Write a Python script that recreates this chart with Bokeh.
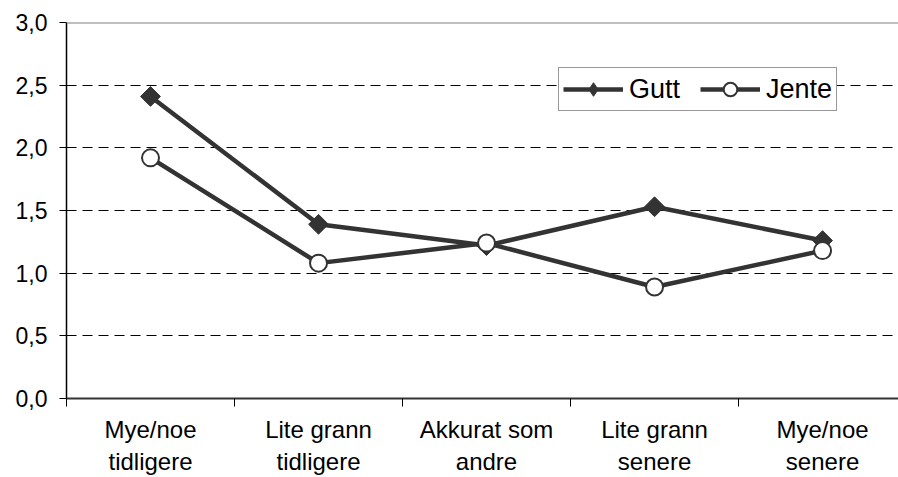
from bokeh.plotting import figure
from bokeh.models import (Range1d, FixedTicker, CustomJSTickFormatter, Span,
                          Legend, LegendItem)
from bokeh.embed import file_html
from bokeh.resources import INLINE
import numpy as np

categories = ["Mye/noe\ntidligere", "Lite grann\ntidligere", "Akkurat som\nandre",
              "Lite grann\nsenere", "Mye/noe\nsenere"]
gutt = [2.41, 1.39, 1.22, 1.53, 1.26]
jente = [1.92, 1.08, 1.24, 0.89, 1.18]
y_ticks = [0.0, 0.5, 1.0, 1.5, 2.0, 2.5, 3.0]
y_tick_labels = ["0,0", "0,5", "1,0", "1,5", "2,0", "2,5", "3,0"]
series_names = ["Gutt", "Jente"]

xs = list(range(len(categories)))
FONT = "Liberation Sans"
DARK = "#333333"

p = figure(width=898, height=477, output_backend="svg", toolbar_location=None,
           x_range=Range1d(-0.5, 4.452), y_range=Range1d(0, 3),
           min_border_left=66, min_border_right=0, min_border_top=22,
           min_border_bottom=78)
p.outline_line_color = None
p.background_fill_color = "white"
p.border_fill_color = "white"

# y axis
yax = p.yaxis[0]
yax.ticker = FixedTicker(ticks=y_ticks, minor_ticks=[])
yax.formatter = CustomJSTickFormatter(args=dict(vals=y_ticks, labels=y_tick_labels),
    code="const i = vals.indexOf(tick); return i >= 0 ? labels[i] : '';")
yax.major_label_text_font = FONT
yax.major_label_text_font_size = "23px"
yax.major_label_text_color = "black"
yax.major_tick_out = 7
yax.major_tick_in = 0
yax.major_tick_line_color = "black"
yax.axis_line_color = "black"
yax.axis_line_width = 1.5
yax.major_label_standoff = 12

# x axis: category labels at centres, tick marks at category boundaries
xax = p.xaxis[0]
xax.ticker = FixedTicker(ticks=xs, minor_ticks=[-0.5, 0.5, 1.5, 2.5, 3.5, 4.5])
xax.formatter = CustomJSTickFormatter(args=dict(vals=xs, labels=categories),
    code="const i = vals.indexOf(Math.round(tick)); return i >= 0 ? labels[i] : '';")
xax.major_tick_out = 0
xax.major_tick_in = 0
xax.minor_tick_out = 8
xax.minor_tick_in = 0
xax.minor_tick_line_color = "black"
xax.axis_line_color = DARK
xax.axis_line_width = 2
xax.major_label_text_font = FONT
xax.major_label_text_font_size = "24px"
xax.major_label_text_color = "black"
xax.major_label_text_line_height = 1.2
xax.major_label_standoff = 9

p.xgrid.visible = False
p.ygrid.ticker = FixedTicker(ticks=[0.5, 1.0, 1.5, 2.0, 2.5])
p.ygrid.grid_line_color = "black"
p.ygrid.grid_line_dash = "10 6"
p.ygrid.grid_line_width = 1

p.add_layout(Span(location=3.0, dimension="width", line_color="#808080", line_width=2))

# series
lg = p.line(xs, gutt, line_color=DARK, line_width=4.5)
sg = p.scatter(xs, gutt, marker="square", angle=np.pi / 4, size=14,
               fill_color=DARK, line_color=DARK, line_width=1)
lj = p.line(xs, jente, line_color=DARK, line_width=4.5)
sj = p.scatter(xs, jente, marker="circle", size=17, fill_color="white",
               line_color=DARK, line_width=2)
# legend-only diamond glyph (legend markers are not rotated by Bokeh)
dg = p.scatter(x=[0], y=[-10], marker="diamond", size=1,
               fill_color=DARK, line_color=DARK, line_width=1)

legend = Legend(items=[LegendItem(label=series_names[0], renderers=[lg, dg]),
                       LegendItem(label=series_names[1], renderers=[lj, sj])],
                location=(492, 287), orientation="horizontal",
                glyph_width=60, glyph_height=34, padding=4, spacing=20,
                label_standoff=6, margin=0,
                label_text_font=FONT, label_text_font_size="27px",
                label_text_color="black",
                border_line_color=DARK, border_line_width=1,
                background_fill_color="white", background_fill_alpha=1)
p.add_layout(legend, "center")

open("out.html", "w").write(file_html(p, INLINE))
